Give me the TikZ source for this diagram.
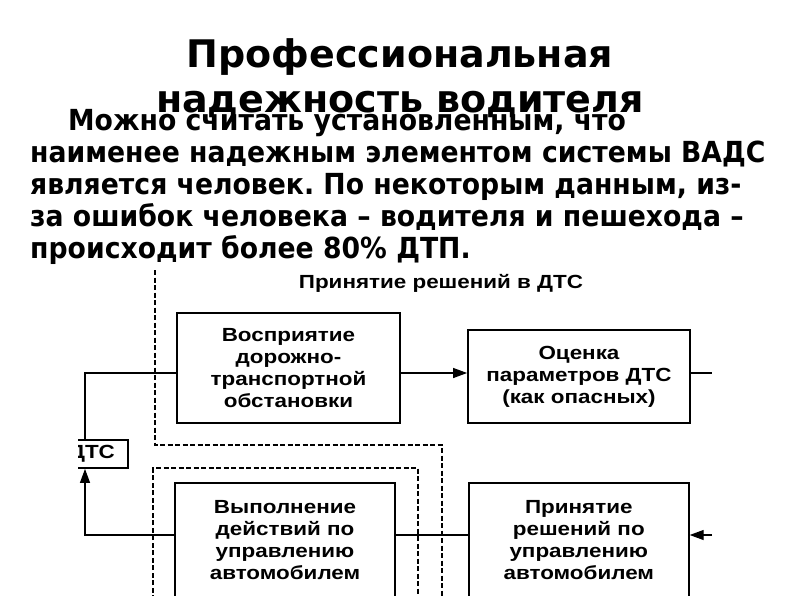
\documentclass[tikz,border=0pt]{standalone}
\usepackage{fontspec}
\setmainfont{DejaVu Sans}
\newfontfamily\bodyfont[FakeStretch=0.92]{DejaVu Sans}
\newfontfamily\boxfont[FakeStretch=1.18]{Liberation Sans}
\usetikzlibrary{arrows.meta, positioning}
\tikzstyle{block} = [rectangle, draw=black, line width=1.8pt, align=center, font=\boxfont\bfseries\fontsize{19}{22}\selectfont]
\tikzstyle{arrow} = [line width=1.2pt, -{Triangle[length=14pt, width=10pt]}]
\tikzstyle{link} = [line width=1.2pt]
\tikzstyle{border} = [line width=1.5pt, dash pattern=on 5pt off 2.5pt]
\frenchspacing

\begin{document}
\begin{tikzpicture}[x=1pt, y=-1pt]
\useasboundingbox (0,0) rectangle (800,600);

% Title and text
\node (title) at (400,78) [align=center, font=\bfseries\fontsize{38}{45}\selectfont] {Профессиональная\\надежность водителя};
\node (body) at (30,109) [anchor=north west, align=left, inner sep=0pt, font=\bodyfont\bfseries\fontsize{29}{32}\selectfont]
  {\hspace*{38pt}Можно считать установленным, что\\наименее надежным элементом системы ВАДС\\является человек. По некоторым данным, из-\\за ошибок человека – водителя и пешехода –\\происходит более 80\% ДТП.};

\begin{scope}
\clip (78,265) rectangle (800,595);

% Dashed borders
\draw[border] (155,270) -- (155,445) -- (442,445) -- (442,600);
\draw[border] (153,600) -- (153,468) -- (418,468) -- (418,600);
\node (dts) at (441,283) [font=\boxfont\bfseries\fontsize{19}{21}\selectfont] {Принятие решений в ДТС};

% Blocks
\node (perc) at (288.5,368) [block, minimum width=223pt, minimum height=110pt] {Восприятие\\дорожно-\\транспортной\\обстановки};
\node (eval) at (579,376.5) [block, minimum width=222pt, minimum height=93pt] {Оценка\\параметров ДТС\\(как опасных)};
\node (exec) at (285,540.5) [block, minimum width=220pt, minimum height=115pt] {Выполнение\\действий по\\управлению\\автомобилем};
\node (dec) [block, right=72pt of exec, minimum width=220pt, minimum height=115pt] {Принятие\\решений по\\управлению\\автомобилем};
\node (car) at (92,454) [rectangle, draw=black, line width=1.8pt, minimum width=72pt, minimum height=28pt, font=\boxfont\bfseries\fontsize{19}{22}\selectfont] {ДТС};

% Connectors
\coordinate (fb) at (85,0);
\coordinate (row) at (0,535);
\coordinate (rout) at (712,373);
\coordinate (rin) at (712,535);
\draw[arrow] (perc.east |- rout) -- (eval.west |- rout);
\draw[link] (eval.east |- rout) -- (rout);
\draw[link] (perc.west |- rout) -| (fb |- car.north);
\draw[arrow] (exec.west |- row) -| (fb |- car.south);
\draw[link] (dec.west |- row) -- (exec.east |- row);
\draw[arrow] (rin) -- (dec.east |- row);
\end{scope}

\end{tikzpicture}
\end{document}
